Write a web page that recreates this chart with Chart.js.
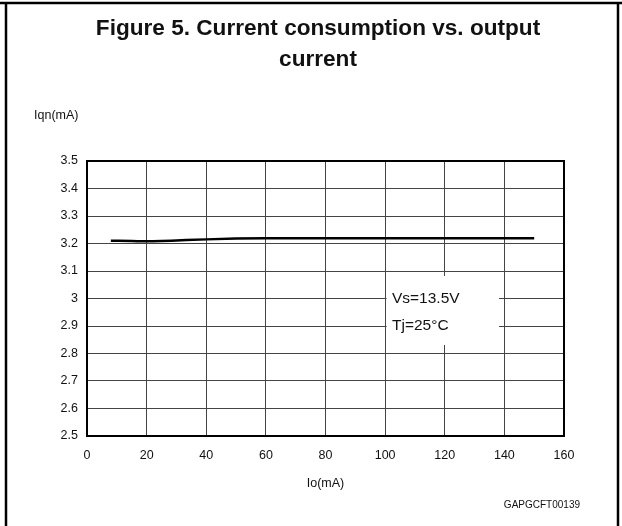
<!DOCTYPE html>
<html>
<head>
<meta charset="utf-8">
<script src="https://cdn.jsdelivr.net/npm/chart.js@4/dist/chart.umd.min.js"></script>
<style>
  body { margin: 0; background: #fff; }
  #wrap { position: relative; width: 622px; height: 526px; }
</style>
</head>
<body>
<div id="wrap"><canvas id="mycanvas" width="622" height="526"></canvas></div>
<script>
// Io (mA) vs Iqn (mA)
var ioValues = [8, 15, 20, 25, 30, 40, 50, 60, 80, 100, 120, 140, 150];
var iqnValues = [3.210, 3.209, 3.208, 3.209, 3.211, 3.215, 3.218, 3.219, 3.219, 3.219, 3.219, 3.219, 3.219];
var xTicks = [0, 20, 40, 60, 80, 100, 120, 140, 160];
var yTicks = [2.5, 2.6, 2.7, 2.8, 2.9, 3, 3.1, 3.2, 3.3, 3.4, 3.5];
var titleLines = ['Figure 5. Current consumption vs. output', 'current'];
var noteLines = ['Vs=13.5V', 'Tj=25°C'];

var FONT = '"Liberation Sans", Arial, sans-serif';

var points = [];
for (var i in ioValues) {
    points.push({x: ioValues[i], y: iqnValues[i]});
}

// frame, title, axis label, note box and figure code
var extras = {
    id: 'extras',
    beforeDatasetsDraw: function(chart) {
        var ctx = chart.ctx;
        var xs = chart.scales.x, ys = chart.scales.y;
        var l = xs.getPixelForValue(100.5), r = xs.getPixelForValue(138.2);
        var t = ys.getPixelForValue(3.082), b = ys.getPixelForValue(2.831);
        ctx.save();
        ctx.fillStyle = '#fff';
        ctx.fillRect(l, t, r - l, b - t);
        ctx.fillStyle = '#111';
        ctx.font = '15.5px ' + FONT;
        ctx.textBaseline = 'middle';
        ctx.fillText(noteLines[0], xs.getPixelForValue(102.3), ys.getPixelForValue(3.0));
        ctx.fillText(noteLines[1], xs.getPixelForValue(102.3), ys.getPixelForValue(2.9));
        // box round the plot
        var a = chart.chartArea;
        ctx.strokeStyle = '#000';
        ctx.lineWidth = 2;
        ctx.strokeRect(a.left, a.top, a.right - a.left, a.bottom - a.top);
        ctx.restore();
    },
    afterDraw: function(chart) {
        var ctx = chart.ctx;
        ctx.save();
        // outer frame
        ctx.strokeStyle = '#000';
        ctx.lineWidth = 2.5;
        ctx.beginPath();
        ctx.moveTo(0, 3); ctx.lineTo(622, 3);
        ctx.moveTo(6, 3); ctx.lineTo(6, 526);
        ctx.moveTo(618, 3); ctx.lineTo(618, 526);
        ctx.stroke();
        // title
        ctx.fillStyle = '#111';
        ctx.textAlign = 'center';
        ctx.textBaseline = 'middle';
        ctx.font = 'bold 22.6px ' + FONT;
        ctx.fillText(titleLines[0], 318, 29);
        ctx.fillText(titleLines[1], 318, 60);
        // y axis label
        ctx.font = '12.5px ' + FONT;
        ctx.textAlign = 'left';
        ctx.fillText('Iqn(mA)', 34, 116);
        // figure code
        ctx.font = '10px ' + FONT;
        ctx.textAlign = 'right';
        ctx.fillText('GAPGCFT00139', 580, 505);
        ctx.restore();
    }
};

var ctx = document.getElementById('mycanvas');

var lineGraph = new Chart(ctx, {
    type: 'scatter',
    data: {
        datasets: [
            {
                label: 'Iqn',
                data: points,
                showLine: true,
                borderColor: '#000',
                borderWidth: 2.5,
                pointRadius: 0,
                tension: 0.4,
                cubicInterpolationMode: 'monotone'
            }
        ]
    },
    options: {
        responsive: false,
        animation: false,
        layout: { padding: { left: 57, right: 58, top: 161, bottom: 31 } },
        plugins: {
            legend: { display: false },
            tooltip: { enabled: false }
        },
        scales: {
            x: {
                type: 'linear',
                min: 0,
                max: 160,
                afterBuildTicks: function(s) { s.ticks = xTicks.map(function(v) { return {value: v}; }); },
                afterFit: function(s) { s.height = 59; },
                grid: { color: '#444', lineWidth: 1, drawTicks: false },
                border: { color: '#000', width: 2 },
                ticks: { color: '#111', padding: 12, font: { family: FONT, size: 12.5 } },
                title: { display: true, text: 'Io(mA)', color: '#111', padding: { top: 14 }, font: { family: FONT, size: 12.5 } }
            },
            y: {
                type: 'linear',
                min: 2.5,
                max: 3.5,
                afterBuildTicks: function(s) { s.ticks = yTicks.map(function(v) { return {value: v}; }); },
                afterFit: function(s) { s.width = 30; },
                grid: { color: '#444', lineWidth: 1, drawTicks: false },
                border: { color: '#000', width: 2 },
                ticks: {
                    color: '#111',
                    padding: 9,
                    font: { family: FONT, size: 12.5 },
                    callback: function(v) { return String(Math.round(v * 10) / 10); }
                }
            }
        }
    },
    plugins: [extras]
});
</script>
</body>
</html>
